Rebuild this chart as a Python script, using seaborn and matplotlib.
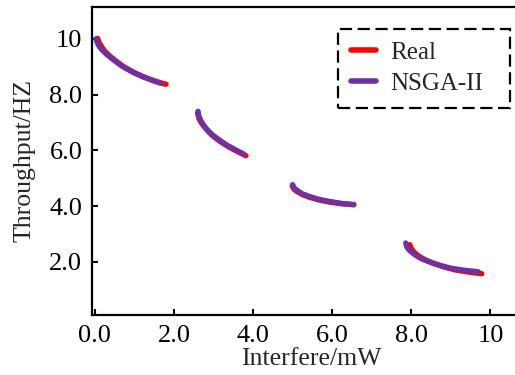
import numpy as np
import pandas as pd
import seaborn as sns
import matplotlib
matplotlib.use("Agg")
import matplotlib.pyplot as plt
from matplotlib.lines import Line2D

# Real curve (4 segments)
real_x = [[0.07, 0.11, 0.17, 0.24, 0.35, 0.52, 0.73, 0.98, 1.24, 1.50, 1.80],
          [2.60, 2.63, 2.68, 2.76, 2.87, 3.00, 3.17, 3.38, 3.59, 3.82],
          [4.99, 5.04, 5.13, 5.26, 5.43, 5.68, 5.93, 6.23, 6.55],
          [7.96, 7.99, 8.06, 8.19, 8.36, 8.56, 8.81, 9.10, 9.44, 9.78]]
real_y = [[10.02, 9.86, 9.72, 9.58, 9.42, 9.22, 9.00, 8.80, 8.63, 8.49, 8.37],
          [7.33, 7.16, 7.02, 6.86, 6.68, 6.50, 6.32, 6.13, 5.97, 5.81],
          [4.72, 4.60, 4.51, 4.41, 4.32, 4.22, 4.15, 4.09, 4.06],
          [2.62, 2.50, 2.36, 2.21, 2.07, 1.95, 1.83, 1.72, 1.64, 1.58]]
# NSGA-II curve (4 segments)
nsga_x = [[0.03, 0.07, 0.12, 0.20, 0.31, 0.48, 0.69, 0.94, 1.20, 1.45, 1.66],
          [2.61, 2.63, 2.68, 2.74, 2.84, 2.97, 3.14, 3.35, 3.56, 3.76],
          [5.00, 5.04, 5.13, 5.25, 5.42, 5.68, 5.93, 6.23, 6.54],
          [7.86, 7.89, 7.96, 8.09, 8.25, 8.47, 8.72, 9.02, 9.35, 9.69]]
nsga_y = [[10.00, 9.84, 9.71, 9.58, 9.43, 9.24, 9.02, 8.82, 8.65, 8.52, 8.41],
          [7.40, 7.22, 7.07, 6.92, 6.74, 6.56, 6.38, 6.18, 6.02, 5.87],
          [4.77, 4.65, 4.55, 4.44, 4.35, 4.24, 4.17, 4.10, 4.05],
          [2.68, 2.53, 2.41, 2.26, 2.12, 2.00, 1.88, 1.77, 1.70, 1.65]]

series_names = ["Real", "NSGA-II"]
colors = {"Real": "#FF0000", "NSGA-II": "#7030A0"}
xticks = [0, 2, 4, 6, 8, 10]
xticklabels = ["0.0", "2.0", "4.0", "6.0", "8.0", "10"]
yticks = [2, 4, 6, 8, 10]
yticklabels = ["2.0", "4.0", "6.0", "8.0", "10"]

rows = []
for name, xs, ys in [("Real", real_x, real_y), ("NSGA-II", nsga_x, nsga_y)]:
    for si, (sx, sy) in enumerate(zip(xs, ys)):
        for a, b in zip(sx, sy):
            rows.append({"x": a, "y": b, "series": name, "seg": si})
df = pd.DataFrame(rows)

sns.set_style("white")
plt.rcParams["font.family"] = ["Liberation Serif", "DejaVu Serif"]

fig = plt.figure(figsize=(5.15, 3.75), dpi=100)
ax = fig.add_axes([92 / 515, 60 / 375, 438 / 515, 308 / 375])

sns.lineplot(data=df, x="x", y="y", hue="series", units="seg", estimator=None,
             sort=False, palette=colors, hue_order=series_names, linewidth=3.9,
             solid_capstyle="round", solid_joinstyle="round", ax=ax, legend=False)

ax.set_xlim(-0.07, 11.0)
ax.set_ylim(0.1, 11.14)
ax.set_xticks(xticks)
ax.set_xticklabels(xticklabels)
ax.set_yticks(yticks)
ax.set_yticklabels(yticklabels)
ax.tick_params(direction="in", length=4, width=1.5, labelsize=19, pad=7,
               left=True, bottom=True, colors="black")
ax.set_xlabel("Interfere/mW", fontsize=18.5, labelpad=1)
ax.set_ylabel("Throughput/HZ", fontsize=18.5, labelpad=10)
for sp in ax.spines.values():
    sp.set_linewidth(1.6)
    sp.set_color("black")
ax.spines["right"].set_visible(False)

handles = [Line2D([0], [0], color=colors[n], lw=4, solid_capstyle="round") for n in series_names]
leg = ax.legend(handles, series_names, loc="upper left",
                bbox_to_anchor=(338 / 515, 1 - 103 / 375, 172 / 515, 74 / 375),
                bbox_transform=fig.transFigure, mode="expand", fontsize=18,
                handlelength=1.0, handletextpad=0.6, labelspacing=0.35,
                borderpad=0.5, borderaxespad=0, frameon=True, fancybox=False)
fr = leg.get_frame()
fr.set_edgecolor("black")
fr.set_linewidth(1.6)
fr.set_linestyle((0, (5.5, 2.5)))
fr.set_facecolor("white")
fr.set_alpha(1)

fig.savefig("out.png", dpi=100)
